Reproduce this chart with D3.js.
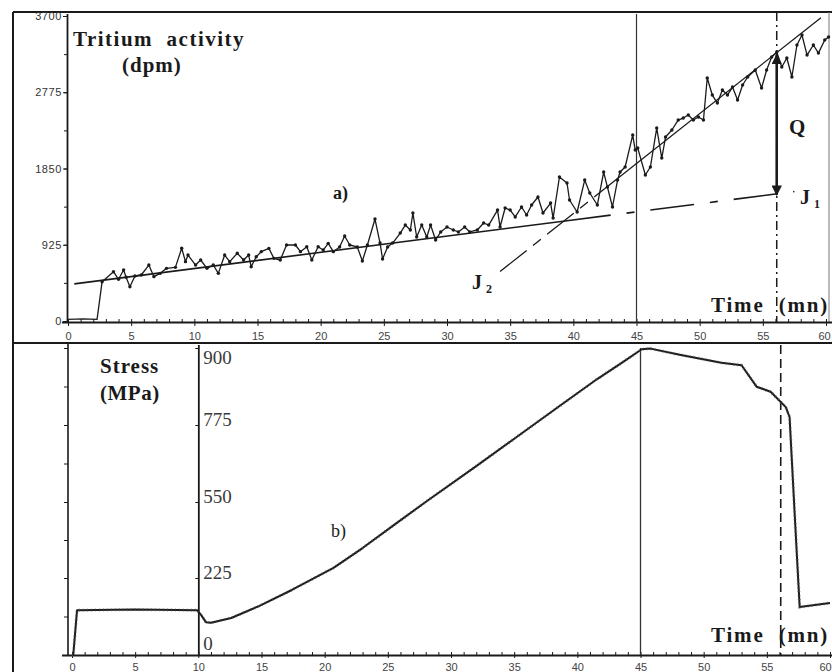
<!DOCTYPE html>
<html><head><meta charset="utf-8">
<script src="https://cdn.jsdelivr.net/npm/d3@7"></script>
<style>body{margin:0;background:#fff}svg{display:block;background:#fff}</style>
</head><body><svg id="c" width="832" height="672"></svg>
<script>
// ---------- data ----------
const timeTicks = [0,5,10,15,20,25,30,35,40,45,50,55,60];
const tritiumTicks = [0,925,1850,2775,3700];
const stressTicks = [0,225,550,775,900];

const tritiumTime = [0,1.2,2.3,2.7,3.6,4.0,4.4,4.6,4.9,5.3,5.8,6.4,6.8,7.3,7.8,8.5,9.0,9.3,9.5,10.1,10.5,11.0,11.5,11.9,12.4,12.8,13.4,13.9,14.3,14.5,14.9,15.3,15.9,16.3,16.8,17.3,18.0,18.4,18.9,19.3,19.8,20.2,20.6,21.0,21.5,21.9,22.3,22.9,23.3,23.7,24.3,24.7,24.9,25.3,25.7,26.3,26.7,27.1,27.3,27.6,28.0,28.4,28.7,29.1,29.5,30.0,30.5,30.9,31.4,31.8,32.4,32.9,33.3,34.0,34.2,34.6,35.0,35.4,35.9,36.3,36.7,37.2,37.6,38.2,38.4,38.9,39.5,39.7,40.3,40.9,41.3,41.9,42.4,42.7,43.1,43.5,43.7,44.1,44.7,44.9,45.1,45.7,46.1,46.6,47.0,47.3,47.8,48.3,48.7,49.1,49.5,49.9,50.3,50.6,51.0,51.4,51.8,52.2,52.6,53.0,53.4,53.8,54.4,54.9,55.3,55.7,56.1,56.5,56.9,57.3,57.7,58.1,58.5,59.0,59.4,59.9,60.2];
const tritiumValue = [20,25,20,477,598,506,619,530,416,546,558,679,538,578,639,651,882,720,800,679,740,639,679,578,800,720,821,740,800,659,780,841,881,760,740,922,922,841,901,740,901,861,942,841,898,1031,922,898,728,922,1237,946,752,898,946,1067,1164,1104,1310,1019,1164,1019,1164,983,1080,1140,1104,1080,1140,1080,1104,1189,1164,1346,1140,1371,1346,1262,1383,1286,1407,1504,1310,1431,1249,1747,1674,1468,1322,1710,1553,1407,1807,1625,1383,1710,1807,1868,2256,2074,2098,1771,1868,2341,1977,2232,2317,2438,2462,2499,2438,2475,2438,2948,2741,2644,2802,2741,2838,2681,2863,2960,3045,2826,3045,3202,3263,3081,3190,2960,3348,3469,3226,3348,3250,3408,3445];

// fitted lines J1 and J2 (time, value)
const j1Time = [0.5, 57.5];
const j1Value = [450, 1570];
const j1SolidEnd = 39.5;
const j2Time = [34.2, 59.6];
const j2Value = [600, 3680];
const j2DashedEnd = 42.5;

const stressTime = [0,0.1,0.4,5,9.9,10.2,10.6,11,12.6,14.8,17.4,20.7,23.0,25.5,28.1,32.0,35.2,38.4,41.6,43.6,45.1,45.8,48.1,51.4,53.0,54.2,55.3,56.5,56.8,57.2,57.6,60];
const stressValue = [0,0,131,133,131,118,96,94,108,143,190,268,353,452,553,655,740,803,850,877,898,899,889,876,872,837,829,804,788,503,140,152];

const peakTime = 45;
const ruptureTime = 56.1;
const qTop = 3230;

// ---------- scales ----------
const svg = d3.select("#c");
const xTop = d3.scaleLinear().domain([0,60]).range([68,826]);
const yTop = d3.scaleLinear().domain([0,3700]).range([321,16]);
const xBot = d3.scaleLinear().domain([0,60]).range([72,830]);
const yStress = d3.scaleLinear().domain(stressTicks).range([655,578,502,425,348]);

const ink = "#1a1a1a";
const serif = "'Liberation Serif','DejaVu Serif',serif";
const sans = "'Liberation Sans',Arial,sans-serif";

// ---------- frame ----------
function line(x1,y1,x2,y2,w,col,dash){
  const l = svg.append("line").attr("x1",x1).attr("y1",y1).attr("x2",x2).attr("y2",y2)
    .attr("stroke",col||ink).attr("stroke-width",w||1);
  if(dash) l.attr("stroke-dasharray",dash);
  return l;
}
line(13,12,832,12,2);
line(13,12,13,672,2);
line(13,343,832,343,2.2);
line(829,12,829,322,1,"#777");
line(68,343,68,655,1.6);

// ---------- top panel axes ----------
function styleAxis(g, fs, col){
  g.select(".domain").attr("stroke",ink).attr("stroke-width",1.8);
  g.selectAll(".tick line").attr("stroke",ink);
  g.selectAll(".tick text").attr("fill",col||"#444").style("font-family",sans).style("font-size",fs+"px");
}
const gxTopMinor = svg.append("g").attr("transform","translate(0,322)")
  .call(d3.axisBottom(xTop).tickValues(d3.range(0,61,1)).tickSize(-3).tickSizeOuter(0).tickFormat(""));
styleAxis(gxTopMinor,11);
gxTopMinor.select(".domain").attr("d","M62,0.5H832");
const gxTop = svg.append("g").attr("transform","translate(0,322)")
  .call(d3.axisBottom(xTop).tickValues(timeTicks).tickSize(4).tickPadding(6).tickSizeOuter(0));
styleAxis(gxTop,11);
gxTop.select(".domain").remove();
gxTop.selectAll(".tick text").filter(d=>d===60).attr("dx","-2");

const gyTopMinor = svg.append("g").attr("transform","translate(67,0)")
  .call(d3.axisLeft(yTop).tickValues(d3.range(0,3701,462.5)).tickSize(3).tickSizeOuter(0).tickFormat(""));
styleAxis(gyTopMinor,10);
gyTopMinor.select(".domain").attr("d","M0.5,14V322");
const gyTop = svg.append("g").attr("transform","translate(67,0)")
  .call(d3.axisLeft(yTop).tickValues(tritiumTicks).tickFormat(d3.format("d")).tickSize(4).tickPadding(1).tickSizeOuter(0));
styleAxis(gyTop,11,"#333");
gyTop.select(".domain").remove();
gyTop.selectAll(".tick text").style("letter-spacing","0.6px");

// ---------- top panel reference lines ----------
line(xTop(peakTime),14,xTop(peakTime),322,1.2,"#333");
line(xTop(ruptureTime),12,xTop(ruptureTime),322,1.5,ink,"9,4,2,4");

// J1
const j1 = d3.scaleLinear().domain(j1Time).range(j1Value);
line(xTop(j1Time[0]),yTop(j1Value[0]),xTop(j1SolidEnd),yTop(j1(j1SolidEnd)),1.6);
line(xTop(j1SolidEnd),yTop(j1(j1SolidEnd)),xTop(j1Time[1]),yTop(j1Value[1]),1.6,ink,"44,16,8,16");
// J2
const j2 = d3.scaleLinear().domain(j2Time).range(j2Value);
line(xTop(j2Time[0]),yTop(j2Value[0]),xTop(j2DashedEnd),yTop(j2(j2DashedEnd)),1.3,ink,"34,8,10,8");
line(xTop(j2DashedEnd),yTop(j2(j2DashedEnd)),xTop(j2Time[1]),yTop(j2Value[1]),1.3);

// tritium data
const tri = tritiumTime.map((t,i)=>[t,tritiumValue[i]]);
svg.append("path").datum(tri)
  .attr("d",d3.line().x(d=>xTop(d[0])).y(d=>yTop(d[1])))
  .attr("fill","none").attr("stroke",ink).attr("stroke-width",1.3).attr("stroke-linejoin","round");
svg.append("g").selectAll("circle").data(tri.slice(3)).join("circle")
  .attr("cx",d=>xTop(d[0])).attr("cy",d=>yTop(d[1])).attr("r",1.7).attr("fill",ink);

// Q arrow
const defs = svg.append("defs");
defs.append("marker").attr("id","ah").attr("viewBox","0 0 10 10").attr("refX",9).attr("refY",5)
  .attr("markerWidth",4).attr("markerHeight",4).attr("orient","auto-start-reverse")
  .append("path").attr("d","M0,0L10,5L0,10Z").attr("fill",ink);
svg.append("line").attr("x1",xTop(ruptureTime)).attr("x2",xTop(ruptureTime))
  .attr("y1",yTop(qTop)).attr("y2",yTop(j1(ruptureTime))+1)
  .attr("stroke",ink).attr("stroke-width",2.6)
  .attr("marker-end","url(#ah)").attr("marker-start","url(#ah)");

// top texts
function txt(x,y,s,fs,weight,anchor,extra){
  const t = svg.append("text").attr("x",x).attr("y",y).text(s)
    .style("font-family",serif).style("font-size",fs+"px").style("font-weight",weight||"bold")
    .attr("fill",ink).attr("text-anchor",anchor||"start").style("white-space","pre");
  if(extra) extra(t);
  return t;
}
txt(73,46,"Tritium  activity",21,"bold","start",t=>t.style("letter-spacing","1.5px"));
txt(122,72,"(dpm)",21,"bold","start",t=>t.style("letter-spacing","1px"));
txt(333,199,"a)",18,"bold");
txt(789,134,"Q",21,"bold");
txt(800,204,"J",20,"bold");
txt(814,208,"1",12,"bold");
txt(472,289,"J",20,"bold");
txt(486,293,"2",12,"bold");
txt(829,312,"Time  (mn)",21,"bold","end",t=>t.style("letter-spacing","1.8px"));

// ---------- bottom panel axes ----------
const gxBotMinor = svg.append("g").attr("transform","translate(0,655)")
  .call(d3.axisBottom(xBot).tickValues(d3.range(0,61,1)).tickSize(-3).tickSizeOuter(0).tickFormat(""));
styleAxis(gxBotMinor,11);
gxBotMinor.select(".domain").attr("d","M62,0.5H832");
const gxBot = svg.append("g").attr("transform","translate(0,655)")
  .call(d3.axisBottom(xBot).tickValues(timeTicks).tickSize(3).tickPadding(5).tickSizeOuter(0));
styleAxis(gxBot,11);
gxBot.select(".domain").remove();
gxBot.selectAll(".tick text").filter(d=>d===60).attr("dx","-5");

const stressMinor = d3.range(stressTicks.length-1).map(i=>(stressTicks[i]+stressTicks[i+1])/2).concat(stressTicks);
const gyLeft = svg.append("g").attr("transform","translate(68,0)")
  .call(d3.axisLeft(yStress).tickValues(stressMinor).tickSize(4).tickSizeOuter(0).tickFormat(""));
styleAxis(gyLeft,10);
gyLeft.select(".domain").remove();

const gyStress = svg.append("g").attr("transform",`translate(${xBot(10)},0)`)
  .call(d3.axisLeft(yStress).tickValues(stressTicks).tickSize(3).tickSizeOuter(0).tickFormat(""));
styleAxis(gyStress,10);
gyStress.select(".domain").attr("d","M0.5,345V655").attr("stroke-width",1.8);
const gyStressLab = svg.append("g").attr("transform",`translate(${xBot(10)},0)`)
  .call(d3.axisRight(yStress).tickValues(stressTicks).tickSize(0).tickPadding(5));
gyStressLab.select(".domain").remove();
gyStressLab.selectAll(".tick text").attr("fill","#3a3a3a").style("font-family",serif).style("font-size","19px")
  .attr("dy",d=> d===900? "0.82em" : d===0 ? "-0.3em" : "0.05em");

// bottom reference lines
line(xBot(peakTime),348,xBot(peakTime),655,1.3,"#333");
line(xBot(ruptureTime),345,xBot(ruptureTime),655,1.6,ink,"9,5");

// stress curve
const st = stressTime.map((t,i)=>[t,stressValue[i]]);
const stressLine = d3.line().x(d=>xBot(d[0])).y(d=>yStress(d[1]));
svg.append("path").datum(st)
  .attr("d",stressLine)
  .attr("fill","none").attr("stroke",ink).attr("stroke-width",2).attr("stroke-linejoin","round");
svg.append("path").datum(st)
  .attr("d",stressLine)
  .attr("fill","none").attr("stroke","#555").attr("stroke-width",3.2).attr("stroke-dasharray","1,3").attr("opacity",0.55);

// bottom texts
txt(100,373,"Stress",21,"bold","start",t=>t.style("letter-spacing","1px"));
txt(100,400,"(MPa)",21,"bold","start",t=>t.style("letter-spacing","0.5px"));
txt(331,537,"b)",18,"normal");
txt(829,642,"Time  (mn)",21,"bold","end",t=>t.style("letter-spacing","1.8px"));
</script>
</body></html>
